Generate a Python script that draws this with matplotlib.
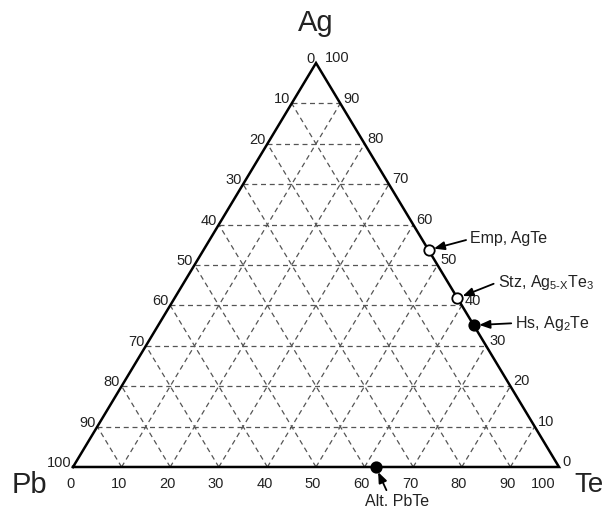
import matplotlib
matplotlib.use('Agg')
import matplotlib.pyplot as plt

plt.rcParams['font.family'] = ['Liberation Sans', 'DejaVu Sans']

ticks = [0, 10, 20, 30, 40, 50, 60, 70, 80, 90, 100]
grid = [10, 20, 30, 40, 50, 60, 70, 80, 90]

phase_names = ['Emp, AgTe',
               'Stz, Ag$_\\mathregular{5\u2010X}$Te$_\\mathregular{3}$',
               r'Hs, Ag$_\mathregular{2}$Te',
               'Alt. PbTe']
phase_te = [46.3, 58.2, 64.9, 62.3]
phase_ag = [53.7, 41.8, 35.1, 0.0]
phase_filled = [False, False, True, True]


def to_xy(te, ag):
    return te + ag / 2.0, ag


fig = plt.figure(figsize=(6.08, 5.09), dpi=100)
ax = fig.add_axes([0, 0, 1, 1])
ax.set_xlim(-15.02, 110.08)
ax.set_ylim(-10.4, 115.6)
ax.axis('off')

# grid lines
dash = dict(color='#555555', lw=0.9, ls=(0, (4, 3)), zorder=1)
for g in grid:
    # constant Ag
    x0, y0 = to_xy(0, g)
    x1, y1 = to_xy(100 - g, g)
    ax.plot([x0, x1], [y0, y1], **dash)
    # constant Te
    x0, y0 = to_xy(g, 0)
    x1, y1 = to_xy(g, 100 - g)
    ax.plot([x0, x1], [y0, y1], **dash)
    # constant Pb
    x0, y0 = to_xy(100 - g, 0)
    x1, y1 = to_xy(0, 100 - g)
    ax.plot([x0, x1], [y0, y1], **dash)

# outline
corners = [to_xy(0, 0), to_xy(100, 0), to_xy(0, 100), to_xy(0, 0)]
ax.plot([c[0] for c in corners], [c[1] for c in corners], color='black', lw=1.8,
        zorder=3, solid_joinstyle='miter')

fs = 10.5
# bottom axis (Te)
for t in ticks:
    x, y = to_xy(t, 0)
    if t == 100:
        x -= 2.7
    ax.text(x - 0.6, y - 2.4, str(t), ha='center', va='top', fontsize=fs, color='#222222')
# left axis (Pb)
for p in ticks:
    x, y = to_xy(0, 100 - p)
    ax.text(x - 0.3, y + 1.0, str(p), ha='right', va='center', fontsize=fs, color='#222222')
# right axis (Ag)
for a in ticks:
    x, y = to_xy(100 - a, a)
    if a == 100:
        x += 1.2
    ax.text(x + 0.6, y + 1.2, str(a), ha='left', va='center', fontsize=fs, color='#222222')

# vertex names
x, y = to_xy(0, 100)
ax.text(x, y + 6.5, 'Ag', ha='center', va='bottom', fontsize=21, color='#222222')
x, y = to_xy(0, 0)
ax.text(x - 9, y - 4.5, 'Pb', ha='center', va='center', fontsize=21, color='#222222')
x, y = to_xy(100, 0)
ax.text(x + 6.2, y - 4.5, 'Te', ha='center', va='center', fontsize=20, color='#222222')

# phases
offsets = [(30, 8), (29, 11.5), (30, 1.5), (15, -25)]
aligns = [('left', 'center'), ('left', 'center'), ('left', 'center'), ('center', 'center')]
relpos = [(0, 0.5), (0, 0.5), (0, 0.5), (0.37, 1.0)]
for name, te, ag, filled, off, al, rp in zip(phase_names, phase_te, phase_ag,
                                             phase_filled, offsets, aligns, relpos):
    x, y = to_xy(te, ag)
    ax.plot(x, y, 'o', ms=7.5, mec='black', mew=1.3,
            mfc='black' if filled else 'white', zorder=5)
    ax.annotate(name, xy=(x, y), xytext=off, textcoords='offset points',
                ha=al[0], va=al[1], fontsize=11.5, color='#222222',
                arrowprops=dict(arrowstyle='-|>,head_length=0.55,head_width=0.22',
                                color='black', lw=1.3, shrinkA=1, shrinkB=4,
                                relpos=rp))

fig.savefig('out.png', dpi=100)
